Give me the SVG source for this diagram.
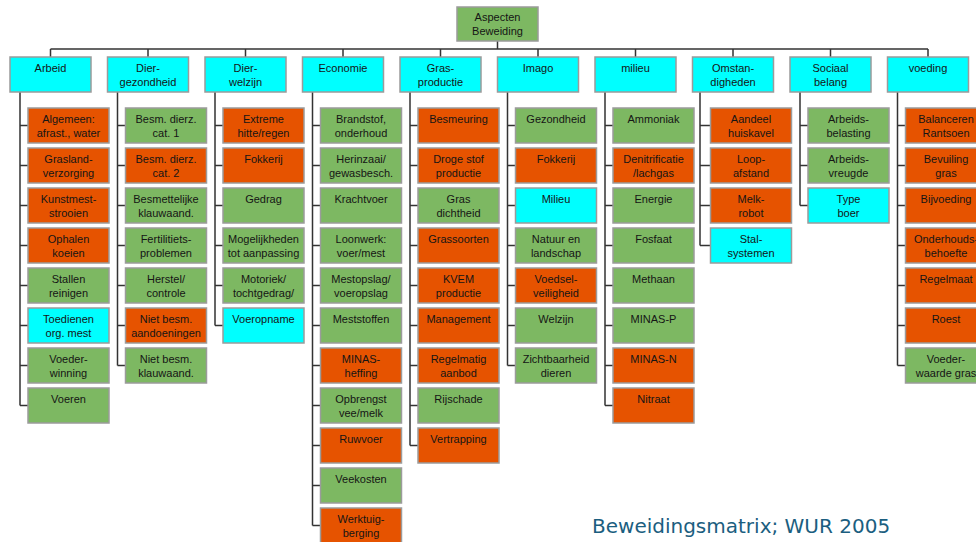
<svg xmlns="http://www.w3.org/2000/svg" width="976" height="542" viewBox="0 0 976 542">
<style>
rect{stroke:#9b9b9b;stroke-width:1.5}
rect.bg{fill:#fff;stroke:none}
.g{fill:#7db862}.o{fill:#e65300}.c{fill:#00ffff}
text{font-family:"Liberation Sans",Arial,sans-serif;font-size:11px;fill:#151515;text-anchor:middle}
.ln{fill:none;stroke:#333;stroke-width:1.5}
.foot{font-family:"DejaVu Sans",Verdana,sans-serif;font-size:20px;fill:#1b5e80;text-anchor:start}
</style>
<rect class="bg" width="976" height="542"/>
<g id="connectors" class="ln">
<path d="M497.5 41V49M50.5 49H928M50.5 49V57M148 49V57M245.5 49V57M343 49V57M440.5 49V57M538 49V57M635.5 49V57M733 49V57M830.5 49V57M928 49V57"/>
<path d="M20 92V405.5M20 125.5H28M20 165.5H28M20 205.5H28M20 245.5H28M20 285.5H28M20 325.5H28M20 365.5H28M20 405.5H28"/>
<path d="M117.5 92V365.5M117.5 125.5H125.5M117.5 165.5H125.5M117.5 205.5H125.5M117.5 245.5H125.5M117.5 285.5H125.5M117.5 325.5H125.5M117.5 365.5H125.5"/>
<path d="M215 92V325.5M215 125.5H223M215 165.5H223M215 205.5H223M215 245.5H223M215 285.5H223M215 325.5H223"/>
<path d="M312.5 92V525.5M312.5 125.5H320.5M312.5 165.5H320.5M312.5 205.5H320.5M312.5 245.5H320.5M312.5 285.5H320.5M312.5 325.5H320.5M312.5 365.5H320.5M312.5 405.5H320.5M312.5 445.5H320.5M312.5 485.5H320.5M312.5 525.5H320.5"/>
<path d="M410 92V445.5M410 125.5H418M410 165.5H418M410 205.5H418M410 245.5H418M410 285.5H418M410 325.5H418M410 365.5H418M410 405.5H418M410 445.5H418"/>
<path d="M507.5 92V365.5M507.5 125.5H515.5M507.5 165.5H515.5M507.5 205.5H515.5M507.5 245.5H515.5M507.5 285.5H515.5M507.5 325.5H515.5M507.5 365.5H515.5"/>
<path d="M605 92V405.5M605 125.5H613M605 165.5H613M605 205.5H613M605 245.5H613M605 285.5H613M605 325.5H613M605 365.5H613M605 405.5H613"/>
<path d="M700 92V245.5M700 125.5H710.5M700 165.5H710.5M700 205.5H710.5M700 245.5H710.5"/>
<path d="M800 92V205.5M800 125.5H808M800 165.5H808M800 205.5H808"/>
<path d="M897.5 92V365.5M897.5 125.5H905.5M897.5 165.5H905.5M897.5 205.5H905.5M897.5 245.5H905.5M897.5 285.5H905.5M897.5 325.5H905.5M897.5 365.5H905.5"/>
</g>
<g id="root"><rect class="g" x="457" y="7" width="81" height="34"/><text x="497.5" y="21">Aspecten</text><text x="497.5" y="35">Beweiding</text></g>
<g id="arbeid"><rect class="c" x="10" y="57" width="81" height="35"/><text x="50.5" y="72">Arbeid</text></g>
<g id="diergezondheid"><rect class="c" x="107.5" y="57" width="81" height="35"/><text x="148" y="72">Dier-</text><text x="148" y="86">gezondheid</text></g>
<g id="dierwelzijn"><rect class="c" x="205" y="57" width="81" height="35"/><text x="245.5" y="72">Dier-</text><text x="245.5" y="86">welzijn</text></g>
<g id="economie"><rect class="c" x="302.5" y="57" width="81" height="35"/><text x="343" y="72">Economie</text></g>
<g id="grasproductie"><rect class="c" x="400" y="57" width="81" height="35"/><text x="440.5" y="72">Gras-</text><text x="440.5" y="86">productie</text></g>
<g id="imago"><rect class="c" x="497.5" y="57" width="81" height="35"/><text x="538" y="72">Imago</text></g>
<g id="milieu"><rect class="c" x="595" y="57" width="81" height="35"/><text x="635.5" y="72">milieu</text></g>
<g id="omstandigheden"><rect class="c" x="692.5" y="57" width="81" height="35"/><text x="733" y="72">Omstan-</text><text x="733" y="86">digheden</text></g>
<g id="sociaalbelang"><rect class="c" x="790" y="57" width="81" height="35"/><text x="830.5" y="72">Sociaal</text><text x="830.5" y="86">belang</text></g>
<g id="voeding"><rect class="c" x="887.5" y="57" width="81" height="35"/><text x="928" y="72">voeding</text></g>

<g id="a0"><rect class="o" x="28" y="108" width="81" height="35"/><text x="68.5" y="123">Algemeen:</text><text x="68.5" y="137">afrast., water</text></g>
<g id="a1"><rect class="o" x="28" y="148" width="81" height="35"/><text x="68.5" y="163">Grasland-</text><text x="68.5" y="177">verzorging</text></g>
<g id="a2"><rect class="o" x="28" y="188" width="81" height="35"/><text x="68.5" y="203">Kunstmest-</text><text x="68.5" y="217">strooien</text></g>
<g id="a3"><rect class="o" x="28" y="228" width="81" height="35"/><text x="68.5" y="243">Ophalen</text><text x="68.5" y="257">koeien</text></g>
<g id="a4"><rect class="g" x="28" y="268" width="81" height="35"/><text x="68.5" y="283">Stallen</text><text x="68.5" y="297">reinigen</text></g>
<g id="a5"><rect class="c" x="28" y="308" width="81" height="35"/><text x="68.5" y="323">Toedienen</text><text x="68.5" y="337">org. mest</text></g>
<g id="a6"><rect class="g" x="28" y="348" width="81" height="35"/><text x="68.5" y="363">Voeder-</text><text x="68.5" y="377">winning</text></g>
<g id="a7"><rect class="g" x="28" y="388" width="81" height="35"/><text x="68.5" y="403">Voeren</text></g>

<g id="d0"><rect class="g" x="125.5" y="108" width="81" height="35"/><text x="166" y="123">Besm. dierz.</text><text x="166" y="137">cat. 1</text></g>
<g id="d1"><rect class="o" x="125.5" y="148" width="81" height="35"/><text x="166" y="163">Besm. dierz.</text><text x="166" y="177">cat. 2</text></g>
<g id="d2"><rect class="g" x="125.5" y="188" width="81" height="35"/><text x="166" y="203">Besmettelijke</text><text x="166" y="217">klauwaand.</text></g>
<g id="d3"><rect class="g" x="125.5" y="228" width="81" height="35"/><text x="166" y="243">Fertilitiets-</text><text x="166" y="257">problemen</text></g>
<g id="d4"><rect class="g" x="125.5" y="268" width="81" height="35"/><text x="166" y="283">Herstel/</text><text x="166" y="297">controle</text></g>
<g id="d5"><rect class="o" x="125.5" y="308" width="81" height="35"/><text x="166" y="323">Niet besm.</text><text x="166" y="337">aandoeningen</text></g>
<g id="d6"><rect class="g" x="125.5" y="348" width="81" height="35"/><text x="166" y="363">Niet besm.</text><text x="166" y="377">klauwaand.</text></g>

<g id="w0"><rect class="o" x="223" y="108" width="81" height="35"/><text x="263.5" y="123">Extreme</text><text x="263.5" y="137">hitte/regen</text></g>
<g id="w1"><rect class="o" x="223" y="148" width="81" height="35"/><text x="263.5" y="163">Fokkerij</text></g>
<g id="w2"><rect class="g" x="223" y="188" width="81" height="35"/><text x="263.5" y="203">Gedrag</text></g>
<g id="w3"><rect class="g" x="223" y="228" width="81" height="35"/><text x="263.5" y="243">Mogelijkheden</text><text x="263.5" y="257">tot aanpassing</text></g>
<g id="w4"><rect class="g" x="223" y="268" width="81" height="35"/><text x="263.5" y="283">Motoriek/</text><text x="263.5" y="297">tochtgedrag/</text></g>
<g id="w5"><rect class="c" x="223" y="308" width="81" height="35"/><text x="263.5" y="323">Voeropname</text></g>

<g id="e0"><rect class="g" x="320.5" y="108" width="81" height="35"/><text x="361" y="123">Brandstof,</text><text x="361" y="137">onderhoud</text></g>
<g id="e1"><rect class="g" x="320.5" y="148" width="81" height="35"/><text x="361" y="163">Herinzaai/</text><text x="361" y="177">gewasbesch.</text></g>
<g id="e2"><rect class="g" x="320.5" y="188" width="81" height="35"/><text x="361" y="203">Krachtvoer</text></g>
<g id="e3"><rect class="g" x="320.5" y="228" width="81" height="35"/><text x="361" y="243">Loonwerk:</text><text x="361" y="257">voer/mest</text></g>
<g id="e4"><rect class="g" x="320.5" y="268" width="81" height="35"/><text x="361" y="283">Mestopslag/</text><text x="361" y="297">voeropslag</text></g>
<g id="e5"><rect class="g" x="320.5" y="308" width="81" height="35"/><text x="361" y="323">Meststoffen</text></g>
<g id="e6"><rect class="o" x="320.5" y="348" width="81" height="35"/><text x="361" y="363">MINAS-</text><text x="361" y="377">heffing</text></g>
<g id="e7"><rect class="g" x="320.5" y="388" width="81" height="35"/><text x="361" y="403">Opbrengst</text><text x="361" y="417">vee/melk</text></g>
<g id="e8"><rect class="o" x="320.5" y="428" width="81" height="35"/><text x="361" y="443">Ruwvoer</text></g>
<g id="e9"><rect class="g" x="320.5" y="468" width="81" height="35"/><text x="361" y="483">Veekosten</text></g>
<g id="e10"><rect class="o" x="320.5" y="508" width="81" height="35"/><text x="361" y="523">Werktuig-</text><text x="361" y="537">berging</text></g>

<g id="g0"><rect class="o" x="418" y="108" width="81" height="35"/><text x="458.5" y="123">Besmeuring</text></g>
<g id="g1"><rect class="o" x="418" y="148" width="81" height="35"/><text x="458.5" y="163">Droge stof</text><text x="458.5" y="177">productie</text></g>
<g id="g2"><rect class="g" x="418" y="188" width="81" height="35"/><text x="458.5" y="203">Gras</text><text x="458.5" y="217">dichtheid</text></g>
<g id="g3"><rect class="o" x="418" y="228" width="81" height="35"/><text x="458.5" y="243">Grassoorten</text></g>
<g id="g4"><rect class="o" x="418" y="268" width="81" height="35"/><text x="458.5" y="283">KVEM</text><text x="458.5" y="297">productie</text></g>
<g id="g5"><rect class="o" x="418" y="308" width="81" height="35"/><text x="458.5" y="323">Management</text></g>
<g id="g6"><rect class="o" x="418" y="348" width="81" height="35"/><text x="458.5" y="363">Regelmatig</text><text x="458.5" y="377">aanbod</text></g>
<g id="g7"><rect class="g" x="418" y="388" width="81" height="35"/><text x="458.5" y="403">Rijschade</text></g>
<g id="g8"><rect class="o" x="418" y="428" width="81" height="35"/><text x="458.5" y="443">Vertrapping</text></g>

<g id="i0"><rect class="g" x="515.5" y="108" width="81" height="35"/><text x="556" y="123">Gezondheid</text></g>
<g id="i1"><rect class="o" x="515.5" y="148" width="81" height="35"/><text x="556" y="163">Fokkerij</text></g>
<g id="i2"><rect class="c" x="515.5" y="188" width="81" height="35"/><text x="556" y="203">Milieu</text></g>
<g id="i3"><rect class="g" x="515.5" y="228" width="81" height="35"/><text x="556" y="243">Natuur en</text><text x="556" y="257">landschap</text></g>
<g id="i4"><rect class="o" x="515.5" y="268" width="81" height="35"/><text x="556" y="283">Voedsel-</text><text x="556" y="297">veiligheid</text></g>
<g id="i5"><rect class="g" x="515.5" y="308" width="81" height="35"/><text x="556" y="323">Welzijn</text></g>
<g id="i6"><rect class="g" x="515.5" y="348" width="81" height="35"/><text x="556" y="363">Zichtbaarheid</text><text x="556" y="377">dieren</text></g>

<g id="m0"><rect class="g" x="613" y="108" width="81" height="35"/><text x="653.5" y="123">Ammoniak</text></g>
<g id="m1"><rect class="o" x="613" y="148" width="81" height="35"/><text x="653.5" y="163">Denitrificatie</text><text x="653.5" y="177">/lachgas</text></g>
<g id="m2"><rect class="g" x="613" y="188" width="81" height="35"/><text x="653.5" y="203">Energie</text></g>
<g id="m3"><rect class="g" x="613" y="228" width="81" height="35"/><text x="653.5" y="243">Fosfaat</text></g>
<g id="m4"><rect class="g" x="613" y="268" width="81" height="35"/><text x="653.5" y="283">Methaan</text></g>
<g id="m5"><rect class="g" x="613" y="308" width="81" height="35"/><text x="653.5" y="323">MINAS-P</text></g>
<g id="m6"><rect class="o" x="613" y="348" width="81" height="35"/><text x="653.5" y="363">MINAS-N</text></g>
<g id="m7"><rect class="o" x="613" y="388" width="81" height="35"/><text x="653.5" y="403">Nitraat</text></g>

<g id="o0"><rect class="o" x="710.5" y="108" width="81" height="35"/><text x="751" y="123">Aandeel</text><text x="751" y="137">huiskavel</text></g>
<g id="o1"><rect class="o" x="710.5" y="148" width="81" height="35"/><text x="751" y="163">Loop-</text><text x="751" y="177">afstand</text></g>
<g id="o2"><rect class="o" x="710.5" y="188" width="81" height="35"/><text x="751" y="203">Melk-</text><text x="751" y="217">robot</text></g>
<g id="o3"><rect class="c" x="710.5" y="228" width="81" height="35"/><text x="751" y="243">Stal-</text><text x="751" y="257">systemen</text></g>

<g id="s0"><rect class="g" x="808" y="108" width="81" height="35"/><text x="848.5" y="123">Arbeids-</text><text x="848.5" y="137">belasting</text></g>
<g id="s1"><rect class="g" x="808" y="148" width="81" height="35"/><text x="848.5" y="163">Arbeids-</text><text x="848.5" y="177">vreugde</text></g>
<g id="s2"><rect class="c" x="808" y="188" width="81" height="35"/><text x="848.5" y="203">Type</text><text x="848.5" y="217">boer</text></g>

<g id="v0"><rect class="o" x="905.5" y="108" width="81" height="35"/><text x="946" y="123">Balanceren</text><text x="946" y="137">Rantsoen</text></g>
<g id="v1"><rect class="o" x="905.5" y="148" width="81" height="35"/><text x="946" y="163">Bevuiling</text><text x="946" y="177">gras</text></g>
<g id="v2"><rect class="o" x="905.5" y="188" width="81" height="35"/><text x="946" y="203">Bijvoeding</text></g>
<g id="v3"><rect class="o" x="905.5" y="228" width="81" height="35"/><text x="946" y="243">Onderhouds-</text><text x="946" y="257">behoefte</text></g>
<g id="v4"><rect class="o" x="905.5" y="268" width="81" height="35"/><text x="946" y="283">Regelmaat</text></g>
<g id="v5"><rect class="o" x="905.5" y="308" width="81" height="35"/><text x="946" y="323">Roest</text></g>
<g id="v6"><rect class="g" x="905.5" y="348" width="81" height="35"/><text x="946" y="363">Voeder-</text><text x="946" y="377">waarde gras</text></g>

<text class="foot" x="592" y="533">Beweidingsmatrix; WUR 2005</text>
</svg>
